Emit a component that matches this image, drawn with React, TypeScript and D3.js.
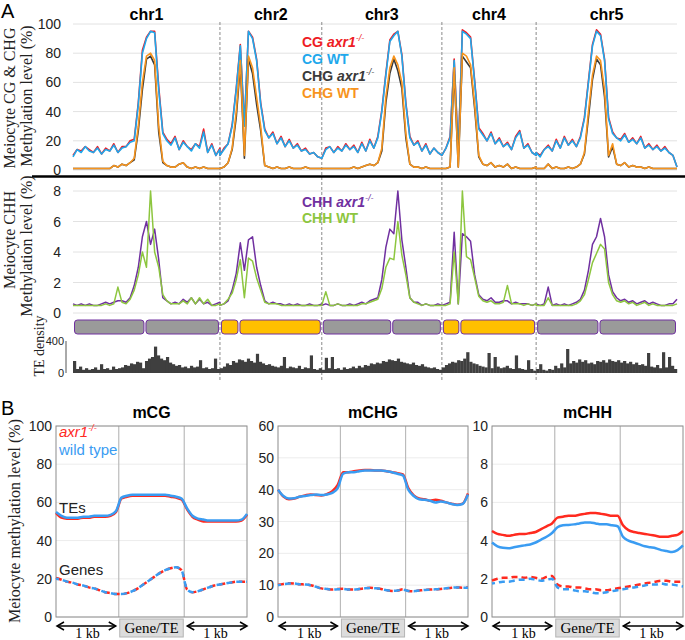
import React from "react";
import * as d3 from "d3";

// ---- Panel A: genome-wide tracks (one array per chromosome) ----
const chrNames = ["chr1", "chr2", "chr3", "chr4", "chr5"];
const chrLengths = [29.0, 20.1, 23.7, 18.6, 27.8]; // Mb
const centromeres = [14.2, 3.75, 13.8, 3.55, 12.4]; // Mb from chromosome start
const methTicks = [0, 20, 40, 60, 80, 100];
const chhTicks = [0, 2, 4, 6, 8];
const teTicks = [0, 400];

const cgAxr = [
  [10, 14, 13, 16, 14, 12, 16, 11, 15, 13, 18, 12, 16, 16, 20, 21, 46, 82, 91, 95, 95, 57, 26, 21, 18, 23, 14, 20, 16, 14, 18, 16, 28, 12, 18, 10, 15],
  [10, 15, 18, 31, 56, 86, 31, 95, 91, 76, 46, 28, 22, 26, 18, 23, 16, 21, 15, 18, 13, 15, 11, 12, 9, 8],
  [8, 15, 16, 12, 16, 13, 18, 14, 17, 12, 19, 13, 21, 15, 23, 41, 66, 89, 93, 95, 79, 46, 23, 17, 20, 13, 18, 11, 15, 12, 10],
  [10, 15, 23, 76, 12, 96, 94, 91, 61, 29, 25, 20, 26, 18, 22, 16, 19, 14, 23, 27, 15, 18, 12, 10],
  [12, 10, 14, 17, 13, 21, 15, 23, 17, 21, 16, 23, 36, 61, 86, 96, 93, 76, 36, 26, 22, 21, 25, 19, 22, 18, 23, 15, 18, 14, 17, 13, 16, 12, 10, 2],
];
const cgWt = [
  [9, 14, 12, 16, 13, 12, 15, 11, 14, 13, 17, 12, 15, 16, 19, 20, 45, 80, 90, 95, 94, 55, 25, 20, 17, 22, 14, 19, 16, 13, 18, 15, 26, 12, 17, 10, 14],
  [10, 14, 18, 30, 55, 85, 30, 95, 90, 75, 45, 27, 22, 25, 18, 22, 16, 20, 15, 17, 13, 14, 11, 12, 9, 8],
  [8, 14, 16, 12, 15, 13, 17, 14, 16, 12, 18, 13, 20, 15, 22, 40, 65, 88, 92, 95, 78, 45, 22, 17, 19, 13, 17, 11, 15, 12, 10],
  [10, 15, 22, 75, 12, 95, 93, 90, 60, 28, 24, 20, 25, 18, 21, 16, 18, 14, 22, 26, 15, 17, 12, 10],
  [12, 9, 14, 16, 13, 20, 15, 22, 17, 20, 16, 22, 35, 60, 85, 95, 92, 75, 35, 25, 22, 20, 24, 19, 21, 18, 22, 15, 17, 14, 16, 13, 15, 12, 10, 2],
];
const chgAxr = [
  [1, 1, 1, 1, 1, 1, 1, 1, 1, 1, 3, 2, 4, 3, 5, 7, 27, 55, 76, 78, 72, 26, 5, 3, 2, 2, 4, 5, 2, 1, 2, 1, 2, 1, 1, 1, 1],
  [1, 2, 5, 14, 36, 72, 8, 76, 66, 45, 27, 3, 2, 1, 2, 1, 1, 2, 1, 1, 1, 2, 1, 1, 1, 1],
  [1, 1, 1, 1, 1, 1, 1, 1, 2, 1, 2, 3, 4, 3, 5, 13, 46, 66, 76, 68, 56, 22, 4, 2, 2, 1, 2, 1, 1, 1, 1],
  [1, 1, 2, 67, 2, 78, 74, 70, 42, 9, 4, 3, 5, 2, 3, 2, 4, 1, 2, 1, 1, 1, 1, 2],
  [1, 1, 1, 4, 1, 2, 1, 1, 2, 1, 2, 4, 11, 36, 62, 76, 72, 50, 9, 16, 4, 3, 5, 2, 3, 2, 2, 1, 2, 1, 1, 1, 1, 1, 1, 1],
];
const chgWt = [
  [1, 1, 1, 1, 1, 1, 1, 1, 1, 1, 3, 2, 4, 3, 5, 8, 30, 60, 78, 80, 75, 30, 6, 3, 2, 2, 4, 5, 2, 1, 2, 1, 2, 1, 1, 1, 1],
  [1, 2, 5, 15, 40, 75, 10, 78, 70, 50, 30, 3, 2, 1, 2, 1, 1, 2, 1, 1, 1, 2, 1, 1, 1, 1],
  [1, 1, 1, 1, 1, 1, 1, 1, 2, 1, 2, 3, 4, 3, 5, 15, 50, 70, 78, 72, 60, 25, 4, 2, 2, 1, 2, 1, 1, 1, 1],
  [1, 1, 2, 70, 2, 80, 78, 72, 45, 10, 4, 3, 5, 2, 3, 2, 4, 1, 2, 1, 1, 1, 1, 2],
  [1, 1, 1, 4, 1, 2, 1, 1, 2, 1, 2, 4, 12, 40, 65, 78, 75, 55, 10, 18, 4, 3, 5, 2, 3, 2, 2, 1, 2, 1, 1, 1, 1, 1, 1, 1],
];
const chhAxr = [
  [0.6, 0.5, 0.6, 0.5, 0.6, 0.5, 0.5, 0.6, 0.7, 0.6, 0.7, 0.8, 0.8, 0.7, 1.0, 1.8, 3.0, 5.0, 6.0, 4.5, 5.5, 3.5, 1.0, 0.8, 0.6, 0.7, 0.6, 0.9, 0.7, 1.0, 0.6, 0.9, 0.6, 0.7, 0.5, 0.6, 0.7],
  [0.5, 0.6, 0.8, 1.5, 2.6, 4.6, 2.8, 4.8, 5.0, 3.0, 1.8, 0.8, 0.6, 0.7, 0.6, 0.6, 0.5, 0.6, 0.5, 0.6, 0.5, 0.5, 0.6, 0.5, 0.5, 0.6],
  [0.5, 0.6, 0.5, 0.5, 0.6, 0.5, 0.5, 0.6, 0.5, 0.6, 0.7, 0.6, 0.8, 0.9, 1.0, 2.2, 4.3, 5.5, 5.2, 8.0, 4.8, 3.0, 1.0, 0.7, 0.7, 0.5, 0.6, 0.5, 0.5, 0.6, 0.5],
  [0.5, 0.6, 0.7, 5.3, 0.6, 5.2, 5.0, 4.7, 2.5, 1.2, 0.9, 0.8, 1.0, 0.7, 0.7, 0.8, 0.8, 0.6, 0.7, 0.6, 0.6, 0.6, 0.5, 0.6],
  [0.6, 0.5, 0.6, 1.7, 0.5, 0.6, 0.5, 0.6, 0.5, 0.6, 0.7, 0.9, 1.5, 2.8, 4.5, 5.0, 6.2, 5.0, 2.5, 1.4, 1.0, 0.8, 0.9, 0.7, 0.8, 0.6, 0.7, 0.8, 0.6, 0.7, 0.6, 0.5, 0.5, 0.6, 0.6, 0.9],
];
const chhWt = [
  [0.5, 0.5, 0.5, 0.5, 0.5, 0.5, 0.5, 0.5, 0.6, 0.5, 0.6, 1.7, 0.7, 0.6, 0.9, 1.5, 2.5, 4.0, 3.0, 8.0, 4.0, 3.0, 1.2, 0.8, 0.6, 0.6, 0.6, 0.8, 0.6, 1.0, 0.6, 1.0, 0.6, 0.9, 0.5, 0.5, 0.6],
  [0.5, 0.6, 0.9, 1.3, 2.2, 3.5, 1.0, 3.6, 3.4, 2.3, 1.5, 0.7, 0.6, 0.6, 0.6, 0.5, 0.5, 0.5, 0.5, 0.5, 0.5, 0.5, 0.5, 0.5, 0.5, 0.5],
  [0.5, 1.4, 0.5, 0.5, 0.6, 0.5, 0.5, 0.5, 0.5, 0.5, 0.6, 0.6, 0.7, 0.8, 0.9, 1.6, 3.0, 3.6, 3.5, 6.0, 3.8, 2.5, 1.0, 0.7, 0.6, 0.5, 0.6, 0.5, 0.5, 0.5, 0.5],
  [0.5, 0.5, 0.6, 4.0, 0.6, 8.0, 3.7, 3.5, 2.3, 1.1, 0.8, 0.7, 0.8, 0.6, 0.6, 0.7, 1.8, 0.6, 0.6, 0.6, 0.5, 0.6, 0.5, 0.6],
  [0.5, 0.5, 0.5, 1.0, 0.5, 0.5, 0.5, 0.5, 0.5, 0.5, 0.6, 0.8, 1.2, 2.2, 3.3, 3.9, 4.5, 4.2, 2.0, 1.2, 0.8, 0.7, 0.8, 0.6, 0.7, 0.5, 0.6, 0.7, 0.5, 0.6, 0.5, 0.5, 0.5, 0.5, 0.5, 0.6],
];
const teDensity = [
  [150, 50, 80, 40, 60, 40, 50, 70, 40, 110, 50, 60, 40, 80, 50, 60, 70, 100, 90, 120, 110, 140, 130, 60, 150, 180, 200, 330, 220, 180, 160, 200, 130, 110, 90, 100, 70, 80, 60, 90, 70, 80, 160, 60, 70, 50, 60, 180, 50],
  [60, 80, 120, 100, 150, 130, 170, 160, 140, 180, 150, 130, 240, 140, 120, 100, 110, 90, 80, 70, 90, 200, 60, 80, 70, 60, 90, 50, 70, 60, 220, 50, 40, 60],
  [40, 190, 60, 200, 50, 60, 40, 70, 50, 60, 80, 60, 90, 70, 100, 90, 120, 110, 130, 120, 150, 140, 170, 160, 150, 180, 140, 130, 120, 110, 130, 100, 90, 110, 80, 70, 60, 70, 50, 40],
  [70, 100, 120, 140, 130, 160, 150, 180, 260, 140, 120, 110, 90, 80, 70, 250, 60, 200, 80, 60, 70, 90, 60, 50, 220, 60, 50, 40, 160, 50, 30],
  [50, 110, 40, 30, 50, 40, 90, 60, 120, 70, 300, 120, 150, 130, 170, 140, 160, 120, 130, 110, 150, 140, 160, 130, 170, 150, 140, 160, 130, 150, 120, 140, 110, 130, 100, 110, 90, 250, 80, 70, 100, 60, 260, 70, 200, 90, 50],
];

// ---- Panel B: metaplots (12 upstream, 12 body, 12 downstream bins) ----
const mcgTeAxr = [54.5, 52, 51.5, 51.5, 51.5, 52, 52, 52.5, 52.5, 52.5, 53, 55, 62, 63, 63.5, 63.5, 63.5, 63.5, 63.5, 63.5, 63.5, 63, 62.5, 61.5, 56.5, 52.5, 51, 50, 50, 50, 50, 50, 50, 50, 50.5, 53.5];
const mcgTeWt = [55, 53, 52, 52, 52, 52.5, 52.5, 53, 53, 53, 53.5, 55.5, 62.5, 63.5, 64, 64, 64, 64, 64, 64, 64, 63.5, 63, 62, 57, 53, 51.5, 51, 50.5, 50.5, 50.5, 50.5, 50.5, 50.5, 51, 54];
const mcgGeneAxr = [20.5, 19.5, 18.5, 18, 17, 16.5, 15.5, 15, 14, 13, 12.5, 12, 12, 12.5, 13.5, 15, 17, 19, 21, 23, 24.5, 25.5, 26, 24.5, 14.5, 13, 13.5, 14.5, 15.5, 16.5, 17, 17.5, 18, 18.5, 18.5, 18.5];
const mcgGeneWt = [20, 19.5, 18.5, 18, 17, 16.5, 15.5, 15, 14, 13, 12.5, 12, 12, 12.5, 13.5, 15, 17, 19, 21, 23, 24.5, 25.5, 26, 24.5, 14.5, 13, 13.5, 14.5, 15.5, 16.5, 17, 17.5, 18, 18.5, 18.5, 18.5];
const mchgTeAxr = [40, 37.8, 37, 37.2, 37.8, 38.2, 38.5, 38.3, 38.2, 38.6, 39.5, 41.5, 45.5, 45.5, 45.8, 46, 46.2, 46.2, 46, 46, 45.8, 45.5, 45.2, 44.8, 40.5, 38.2, 37.2, 37, 36.5, 36.8, 36.5, 36, 35.6, 35.3, 35.6, 38.8];
const mchgTeWt = [40, 38, 37.2, 37.3, 37.8, 38, 38.3, 38.5, 38.3, 38.5, 39, 40.5, 45, 45.5, 45.5, 45.8, 46, 46, 46, 46, 45.8, 45.5, 45, 44.5, 40, 38, 37, 36.8, 36.5, 36, 36.3, 36, 35.5, 35.2, 35.5, 38.5];
const mchgGeneAxr = [10.1, 10.4, 10.6, 10.5, 10.3, 10.2, 10, 9.5, 9, 8.8, 8.6, 8.8, 8.9, 8.6, 8.6, 8.8, 9, 9.2, 9, 8.8, 8.4, 8.2, 8.3, 8.7, 8.2, 8.1, 8.3, 8.5, 8.6, 8.7, 8.8, 9, 9.2, 9.3, 9.2, 9.3];
const mchgGeneWt = [10, 10.3, 10.5, 10.5, 10.3, 10.2, 10, 9.5, 9, 8.8, 8.6, 8.7, 8.8, 8.6, 8.6, 8.8, 9, 9.1, 9, 8.8, 8.4, 8.2, 8.3, 8.6, 8.2, 8.1, 8.3, 8.5, 8.6, 8.7, 8.8, 9, 9.2, 9.3, 9.2, 9.2];
const mchhTeAxr = [4.5, 4.35, 4.3, 4.25, 4.3, 4.35, 4.35, 4.4, 4.45, 4.6, 4.75, 4.9, 5.2, 5.25, 5.3, 5.3, 5.35, 5.4, 5.45, 5.45, 5.4, 5.35, 5.3, 5.3, 4.8, 4.55, 4.45, 4.4, 4.35, 4.3, 4.25, 4.2, 4.2, 4.25, 4.3, 4.5];
const mchhTeWt = [3.9, 3.7, 3.62, 3.6, 3.65, 3.7, 3.75, 3.8, 3.9, 4.05, 4.2, 4.4, 4.7, 4.8, 4.82, 4.85, 4.9, 4.95, 4.95, 4.9, 4.85, 4.85, 4.8, 4.75, 4.2, 4.0, 3.9, 3.8, 3.7, 3.65, 3.6, 3.5, 3.45, 3.4, 3.5, 3.75];
const mchhGeneAxr = [1.9, 2.0, 2.05, 2.05, 2.1, 2.1, 2.05, 2.1, 2.05, 2.0, 2.1, 2.15, 1.7, 1.6, 1.6, 1.55, 1.55, 1.5, 1.45, 1.45, 1.4, 1.4, 1.45, 1.5, 1.55, 1.6, 1.65, 1.7, 1.75, 1.8, 1.85, 1.9, 1.9, 1.85, 1.85, 1.85];
const mchhGeneWt = [1.75, 1.8, 1.85, 1.85, 1.9, 1.95, 1.95, 2.0, 1.95, 1.9, 1.95, 2.0, 1.55, 1.45, 1.45, 1.4, 1.35, 1.35, 1.3, 1.25, 1.25, 1.3, 1.35, 1.4, 1.45, 1.5, 1.55, 1.6, 1.65, 1.7, 1.7, 1.75, 1.7, 1.7, 1.65, 1.6];

const sans = "'Liberation Sans', Arial, Helvetica, sans-serif";
const serif = "'Liberation Serif', 'Times New Roman', serif";
const RED = "#ee1c25";
const CG_BLUE = "#1ea8ec";
const CHG_DARK = "#3a3a3a";
const ORANGE = "#f7941d";
const PURPLE = "#7030a0";
const GREEN = "#8dc63f";
const B_RED = "#ff2a1f";
const B_BLUE = "#3a9cf2";
const chrFill = ["#9a9a9a", "#ffc000", "#9a9a9a", "#ffc000", "#9a9a9a"];

function Sup({ children }: { children: string }) {
  return (
    <tspan fontSize={9} fontStyle="italic" fontWeight="normal" dy={-6}>
      {children}
    </tspan>
  );
}

function Arrow({ x1, x2, y }: { x1: number; x2: number; y: number }) {
  return (
    <g stroke="#000" strokeWidth={1.5} fill="none">
      <line x1={x1} x2={x2} y1={y} y2={y} />
      <path d={`M${x1 + 7},${y - 4} L${x1},${y} L${x1 + 7},${y + 4}`} />
      <path d={`M${x2 - 7},${y - 4} L${x2},${y} L${x2 - 7},${y + 4}`} />
    </g>
  );
}

type ProfileProps = {
  left: number;
  right: number;
  title: string;
  yMax: number;
  yStep: number;
  teAxr: number[];
  teWt: number[];
  geneAxr: number[];
  geneWt: number[];
  legend?: boolean;
};

function Profile({ left, right, title, yMax, yStep, teAxr, teWt, geneAxr, geneWt, legend }: ProfileProps) {
  const top = 426;
  const bottom = 617;
  const x = d3.scaleLinear().domain([0, teWt.length - 1]).range([left, right]);
  const y = d3.scaleLinear().domain([0, yMax]).range([bottom, top]);
  const ticks = d3.range(0, yMax + 0.001, yStep);
  const line = d3.line<number>().x((_, i) => x(i)).y((d) => y(d)).curve(d3.curveMonotoneX);
  const b1 = x(11.5);
  const b2 = x(23.5);
  return (
    <g>
      <text x={(left + right) / 2} y={418} textAnchor="middle" fontFamily={sans} fontWeight="bold" fontSize={16}>
        {title}
      </text>
      {ticks.map((t) => (
        <g key={t}>
          <line x1={left} x2={right} y1={y(t)} y2={y(t)} stroke="#ececec" />
          <text x={left - 4} y={y(t) + 5} textAnchor="end" fontFamily={sans} fontSize={14} fill="#222">
            {t}
          </text>
        </g>
      ))}
      <line x1={b1} x2={b1} y1={top} y2={bottom} stroke="#bbb" strokeWidth={1.2} />
      <line x1={b2} x2={b2} y1={top} y2={bottom} stroke="#bbb" strokeWidth={1.2} />
      <rect x={left} y={top} width={right - left} height={bottom - top} fill="none" stroke="#8c8c8c" />
      <path d={line(geneAxr) || ""} fill="none" stroke={B_RED} strokeWidth={2.5} strokeDasharray="6,4" />
      <path d={line(geneWt) || ""} fill="none" stroke={B_BLUE} strokeWidth={2.5} strokeDasharray="6,4" strokeDashoffset={3} />
      <path d={line(teAxr) || ""} fill="none" stroke={B_RED} strokeWidth={2.5} />
      <path d={line(teWt) || ""} fill="none" stroke={B_BLUE} strokeWidth={2.5} />
      {legend && (
        <g fontFamily={sans} fontSize={15}>
          <text x={left + 3} y={437} fill={B_RED} fontStyle="italic">
            axr1<Sup>-/-</Sup>
          </text>
          <text x={left + 3} y={455} fill={B_BLUE}>
            wild type
          </text>
          <text x={left + 3} y={513} fill="#222">
            TEs
          </text>
          <text x={left + 3} y={575} fill="#222">
            Genes
          </text>
        </g>
      )}
      <Arrow x1={left + 1} x2={b1 - 3} y={626} />
      <Arrow x1={b2 + 3} x2={right} y={626} />
      <rect x={b1 + 1} y={619} width={b2 - b1 - 2} height={18} fill="#dcdcdc" stroke="#b4b4b4" />
      <text x={(b1 + b2) / 2} y={633} textAnchor="middle" fontFamily={serif} fontSize={15}>
        Gene/TE
      </text>
      <text x={(left + b1) / 2} y={638} textAnchor="middle" fontFamily={serif} fontSize={14}>
        1 kb
      </text>
      <text x={(b2 + right) / 2} y={638} textAnchor="middle" fontFamily={serif} fontSize={14}>
        1 kb
      </text>
    </g>
  );
}

export default function App() {
  const W = 685;
  const H = 640;
  const total = d3.sum(chrLengths);
  const chrStart = chrLengths.map((_, i) => d3.sum(chrLengths.slice(0, i)));
  const xA = d3.scaleLinear().domain([0, total]).range([73, 677]);
  const yMeth = d3.scaleLinear().domain([0, 100]).range([170, 24]);
  const yChh = d3.scaleLinear().domain([0, 8]).range([313, 191]);
  const yTe = d3.scaleLinear().domain([0, 400]).range([373, 341]);

  const toPts = (series: number[][]) =>
    series.flatMap((vals, c) =>
      vals.map((v, i) => [chrStart[c] + (i / (vals.length - 1)) * chrLengths[c], v] as [number, number])
    );
  const lineMeth = d3.line<[number, number]>().x((d) => xA(d[0])).y((d) => yMeth(d[1]));
  const lineChh = d3.line<[number, number]>().x((d) => xA(d[0])).y((d) => yChh(d[1]));

  const teBars = teDensity.flatMap((vals, c) =>
    vals.map((v, i) => {
      const w = chrLengths[c] / vals.length;
      return { x0: chrStart[c] + i * w, w, v };
    })
  );

  const meth = [
    { data: cgAxr, color: RED },
    { data: cgWt, color: CG_BLUE },
    { data: chgAxr, color: CHG_DARK },
    { data: chgWt, color: ORANGE },
  ];
  const chh = [
    { data: chhAxr, color: PURPLE },
    { data: chhWt, color: GREEN },
  ];

  return (
    <svg width={W} height={H} style={{ position: "absolute", left: 0, top: 0, background: "#fff" }}>
      <rect width={W} height={H} fill="#fff" />
      <text x={1} y={18} fontFamily={sans} fontSize={20}>A</text>
      <text x={1} y={415} fontFamily={sans} fontSize={20}>B</text>

      {/* chromosome titles */}
      {chrNames.map((n, i) => (
        <text key={n} x={xA(chrStart[i] + chrLengths[i] / 2)} y={20} textAnchor="middle" fontFamily={sans} fontWeight="bold" fontSize={16}>
          {n}
        </text>
      ))}

      {/* grid lines */}
      {methTicks.map((t) => (
        <g key={"m" + t}>
          <line x1={73} x2={677} y1={yMeth(t)} y2={yMeth(t)} stroke="#e2e2e2" />
          <text x={61} y={yMeth(t) + 5} textAnchor="end" fontFamily={sans} fontSize={14} fill="#222">{t}</text>
        </g>
      ))}
      {chhTicks.map((t) => (
        <g key={"c" + t}>
          <line x1={73} x2={677} y1={yChh(t)} y2={yChh(t)} stroke="#e2e2e2" />
          <text x={61} y={yChh(t) + 5} textAnchor="end" fontFamily={sans} fontSize={14} fill="#222">{t}</text>
        </g>
      ))}

      {/* chromosome separators */}
      {chrStart.slice(1).map((s, i) => (
        <line key={i} x1={xA(s)} x2={xA(s)} y1={22} y2={380} stroke="#8a8a8a" strokeDasharray="3,2" />
      ))}

      {/* methylation tracks */}
      {meth.map((s, i) => (
        <path key={i} d={lineMeth(toPts(s.data)) || ""} fill="none" stroke={s.color} strokeWidth={1.6} strokeLinejoin="round" />
      ))}
      <line x1={32} x2={685} y1={176.5} y2={176.5} stroke="#000" strokeWidth={2.5} />
      {chh.map((s, i) => (
        <path key={i} d={lineChh(toPts(s.data)) || ""} fill="none" stroke={s.color} strokeWidth={1.5} strokeLinejoin="round" />
      ))}

      {/* legends */}
      <g fontFamily={sans} fontSize={14} fontWeight="bold">
        <text x={302} y={47} fill={RED}>CG <tspan fontStyle="italic">axr1</tspan><Sup>-/-</Sup></text>
        <text x={302} y={64} fill={CG_BLUE}>CG WT</text>
        <text x={302} y={81} fill={CHG_DARK}>CHG <tspan fontStyle="italic">axr1</tspan><Sup>-/-</Sup></text>
        <text x={302} y={98} fill={ORANGE}>CHG WT</text>
        <text x={302} y={207} fill={PURPLE}>CHH <tspan fontStyle="italic">axr1</tspan><Sup>-/-</Sup></text>
        <text x={302} y={223} fill={GREEN}>CHH WT</text>
      </g>

      {/* chromosome arms */}
      {chrLengths.map((len, i) => {
        const a = xA(chrStart[i]);
        const c = xA(chrStart[i] + centromeres[i]);
        const b = xA(chrStart[i] + len);
        return (
          <g key={i} fill={chrFill[i]} stroke={PURPLE} strokeWidth={1}>
            <rect x={a + 1.5} y={320} width={c - a - 2.5} height={14} rx={3} />
            <rect x={c + 1} y={320} width={b - c - 2.5} height={14} rx={3} />
          </g>
        );
      })}

      {/* TE density */}
      {teBars.map((d, i) => (
        <rect key={i} x={xA(d.x0)} width={xA(d.w) - xA(0) + 0.2} y={yTe(d.v)} height={yTe(0) - yTe(d.v)} fill="#3f3f3f" />
      ))}
      <line x1={66} x2={66} y1={341} y2={373} stroke="#555" />
      {teTicks.map((t) => (
        <text key={t} x={64} y={yTe(t) + 4} textAnchor="end" fontFamily={sans} fontSize={11} fill="#222">{t}</text>
      ))}

      {/* axis titles panel A */}
      <g fontFamily={serif} fontSize={16} fill="#222">
        <text transform="translate(15,98) rotate(-90)" textAnchor="middle">Meiocyte CG &amp; CHG</text>
        <text transform="translate(32,96) rotate(-90)" textAnchor="middle">Methylation level (%)</text>
        <text transform="translate(15,240) rotate(-90)" textAnchor="middle">Meiocyte CHH</text>
        <text transform="translate(32,246) rotate(-90)" textAnchor="middle">Methylation level (%)</text>
        <text transform="translate(44,346) rotate(-90)" textAnchor="middle" fontSize={14}>TE density</text>
      </g>

      {/* Panel B */}
      <text transform="translate(20,521) rotate(-90)" textAnchor="middle" fontFamily={serif} fontSize={16} fill="#222">
        Meiocyte methylation level (%)
      </text>
      <Profile left={56} right={247} title="mCG" yMax={100} yStep={20} teAxr={mcgTeAxr} teWt={mcgTeWt} geneAxr={mcgGeneAxr} geneWt={mcgGeneWt} legend />
      <Profile left={278} right={468} title="mCHG" yMax={60} yStep={10} teAxr={mchgTeAxr} teWt={mchgTeWt} geneAxr={mchgGeneAxr} geneWt={mchgGeneWt} />
      <Profile left={492} right={683} title="mCHH" yMax={10} yStep={2} teAxr={mchhTeAxr} teWt={mchhTeWt} geneAxr={mchhGeneAxr} geneWt={mchhGeneWt} />
    </svg>
  );
}
